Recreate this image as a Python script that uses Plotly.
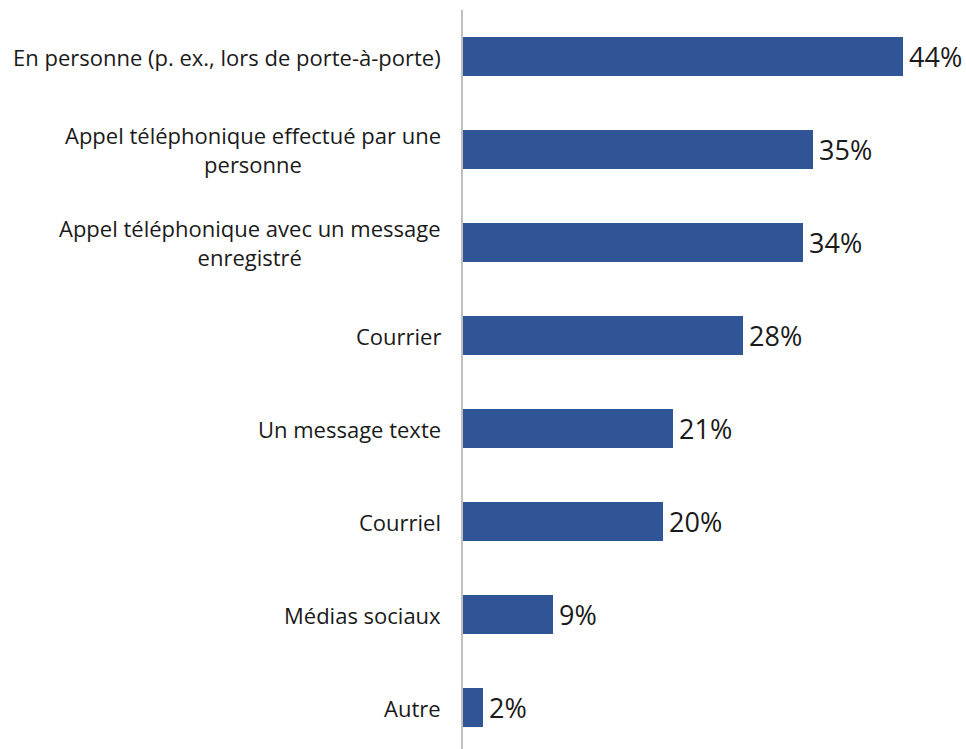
import plotly.graph_objects as go

categories = [
    "En personne (p. ex., lors de porte-à-porte)",
    "Appel téléphonique effectué par une<br>personne",
    "Appel téléphonique avec un message<br>enregistré",
    "Courrier",
    "Un message texte",
    "Courriel",
    "Médias sociaux",
    "Autre",
]
values = [44, 35, 34, 28, 21, 20, 9, 2]
value_labels = [f"{v}%" for v in values]

TEXT_COLOR = "#1a1a1a"
FONT = "Open Sans"

fig = go.Figure(
    go.Bar(
        x=values,
        y=categories,
        orientation="h",
        marker=dict(color="#2F5597", line=dict(width=0)),
        width=0.42,
        hoverinfo="x+y",
    )
)

# Category names: centred multi-line text, right-aligned against the axis
for cat in categories:
    fig.add_annotation(
        x=0, xref="paper", y=cat, yref="y",
        text=cat, showarrow=False,
        xanchor="right", yanchor="middle", align="center",
        xshift=-20,
        font=dict(family=FONT, size=22, color=TEXT_COLOR),
    )

# Value labels just past the end of each bar
for cat, v, lab in zip(categories, values, value_labels):
    fig.add_annotation(
        x=v, xref="x", y=cat, yref="y",
        text=lab, showarrow=False,
        xanchor="left", yanchor="middle",
        xshift=4,
        font=dict(family=FONT, size=27, color=TEXT_COLOR),
    )

fig.update_layout(
    width=966,
    height=749,
    margin=dict(l=463, r=10, t=10, b=0),
    paper_bgcolor="white",
    plot_bgcolor="white",
    showlegend=False,
    font=dict(family=FONT, size=22, color=TEXT_COLOR),
)
fig.update_xaxes(range=[0, 49.3], visible=False)
fig.update_yaxes(
    type="category",
    range=[7.446, -0.5],
    showline=True,
    linecolor="#BFBFBF",
    linewidth=2,
    ticks="",
    showticklabels=False,
    showgrid=False,
)

fig.write_html("out.html")
